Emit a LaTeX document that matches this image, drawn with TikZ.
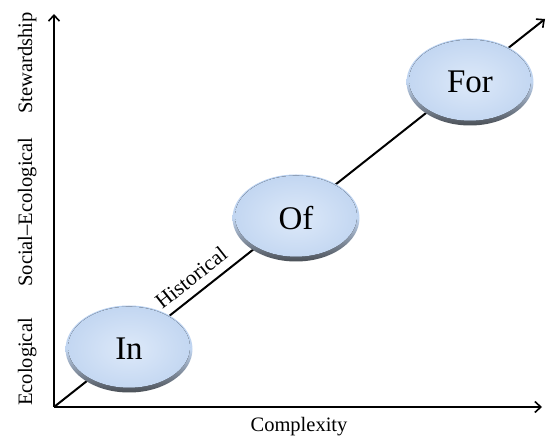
\documentclass[tikz,border=0pt]{standalone}
\usepackage{fontspec}
\setmainfont{Liberation Serif}
\usetikzlibrary{shapes.geometric,arrows.meta}
\definecolor{rimtop}{HTML}{B4CDEE}
\definecolor{rimbot}{HTML}{4A4F56}
\definecolor{fillin}{HTML}{DDE9F9}
\definecolor{fillout}{HTML}{C2D6F1}
\tikzset{
  axis/.style={line width=2pt,-{Straight Barb[length=6pt,width=11pt,line width=1.6pt]}},
  bub/.style={ellipse, minimum width=127pt, minimum height=87pt, inner sep=0pt,
    top color=rimtop, bottom color=rimbot, middle color=fillout,
    path picture={\fill[inner color=fillin, outer color=fillout]
      ([yshift=1.8pt]path picture bounding box.center) ellipse [x radius=61pt, y radius=40.5pt];},
    font=\fontsize{33}{33}\selectfont},
  lab/.style={font=\fontsize{20.5}{20.5}\selectfont}
}
\begin{document}
\begin{tikzpicture}[x=1pt,y=1pt]
\useasboundingbox (0,0) rectangle (547,439);
\coordinate (O) at (54,32);
\coordinate (Ytip) at (54,425);
\coordinate (Xtip) at (542,32);
\coordinate (Dtip) at (545,420);
\draw[axis] (O) -- (Dtip) node[sloped, above, pos=0.30, lab, font=\fontsize{21.5}{21.5}\selectfont, inner sep=8pt] (hist) {Historical};
\draw[axis] (O) -- (Ytip);
\draw[axis] (O) -- (Xtip);
\node[bub] (in) at (129,90) {In};
\node[bub] (of) at (296,221) {Of};
\node[bub] (for) at (470,357) {For};
\node[lab, anchor=base] (cx) at (299,7) {Complexity};
\node[lab, rotate=90, anchor=base] (eco) at (32,77) {Ecological};
\node[lab, rotate=90, anchor=base] (soc) at (32,227) {Social--Ecological};
\node[lab, rotate=90, anchor=base] (stw) at (32,376) {Stewardship};
\end{tikzpicture}
\end{document}
